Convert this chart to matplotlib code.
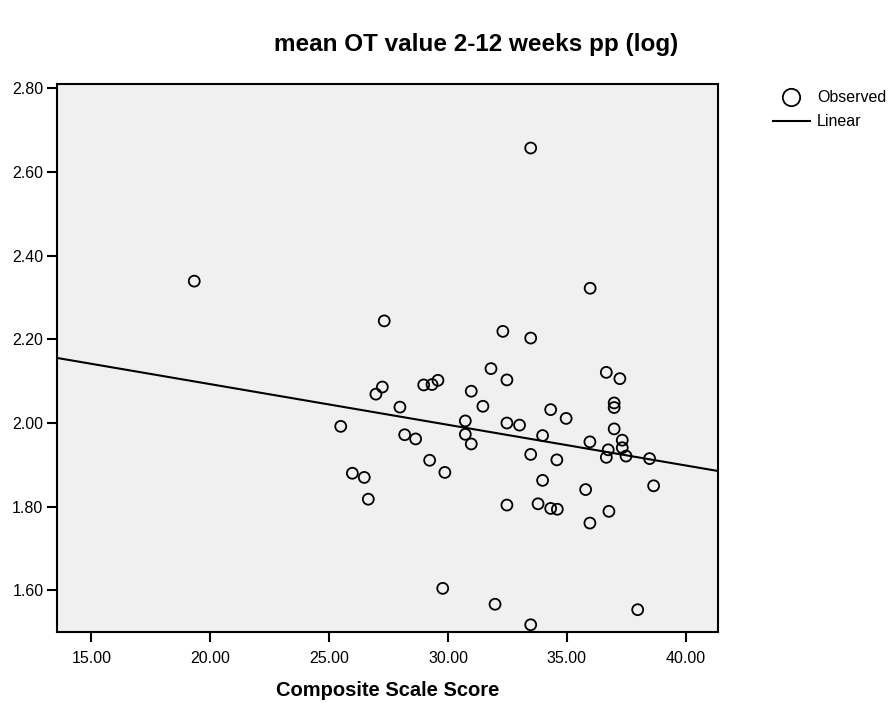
import numpy as np
import matplotlib
matplotlib.use("Agg")
import matplotlib.pyplot as plt
from matplotlib.lines import Line2D

plt.rcParams['font.family'] = ['Liberation Sans', 'DejaVu Sans']

title = "mean OT value 2-12 weeks pp (log)"
x_label = "Composite Scale Score"
legend_labels = ["Observed", "Linear"]
x_ticks = [15.0, 20.0, 25.0, 30.0, 35.0, 40.0]
y_ticks = [1.60, 1.80, 2.00, 2.20, 2.40, 2.60, 2.80]

composite_score = [
    19.33, 33.48, 35.98, 27.32, 32.31, 33.48, 31.81, 32.48, 27.24, 26.97,
    28.98, 29.33, 29.58, 30.98, 27.98, 31.47, 25.49, 30.73, 32.48, 33.01,
    28.18, 28.64, 30.73, 30.98, 33.48, 29.23, 29.87, 25.98, 26.48, 26.65,
    32.48, 36.66, 37.23, 36.99, 36.99, 34.32, 34.97, 36.99, 33.98, 35.97,
    37.33, 37.33, 36.74, 36.66, 37.49, 38.48, 34.58, 33.98, 35.79, 38.65,
    33.79, 34.32, 34.60, 36.77, 35.97, 29.78, 31.98, 33.48, 37.98,
]
mean_ot_log = [
    2.339, 2.657, 2.322, 2.244, 2.219, 2.203, 2.130, 2.103, 2.086, 2.069,
    2.091, 2.092, 2.102, 2.076, 2.038, 2.040, 1.992, 2.005, 2.000, 1.995,
    1.972, 1.962, 1.973, 1.950, 1.925, 1.911, 1.882, 1.880, 1.870, 1.818,
    1.804, 2.121, 2.106, 2.048, 2.037, 2.032, 2.011, 1.986, 1.970, 1.955,
    1.959, 1.941, 1.936, 1.918, 1.921, 1.915, 1.912, 1.863, 1.841, 1.850,
    1.807, 1.796, 1.794, 1.789, 1.761, 1.605, 1.567, 1.518, 1.554,
]

x = np.array(composite_score)
y = np.array(mean_ot_log)

W, H = 893, 703
fig = plt.figure(figsize=(W / 100, H / 100), dpi=100)
ax = fig.add_axes([57.3 / W, 1 - 632.3 / H, 661 / W, 548.3 / H])
ax.set_facecolor("#f0f0f0")
fig.patch.set_facecolor("white")

xlim = (13.57, 41.37)
ylim = (1.50, 2.81)

# least-squares linear fit drawn across the full x range
slope, intercept = np.polyfit(x, y, 1)
xs = np.array(xlim)
ax.plot(xs, intercept + slope * xs, color="black", lw=1.5, zorder=2)

ax.scatter(x, y, s=62, facecolors="none", edgecolors="black",
           linewidths=1.3, zorder=3)

ax.set_xlim(*xlim)
ax.set_ylim(*ylim)
ax.set_xticks(x_ticks)
ax.set_xticklabels([f"{t:.2f}" for t in x_ticks])
ax.set_yticks(y_ticks)
ax.set_yticklabels([f"{t:.2f}" for t in y_ticks])
ax.tick_params(direction="out", length=7, width=1.5, labelsize=11.5,
               colors="black")
ax.tick_params(axis="x", pad=6.5)
ax.tick_params(axis="y", pad=3)
for sp in ax.spines.values():
    sp.set_linewidth(1.5)
    sp.set_color("black")

ax.set_xlabel(x_label, fontsize=14.5, fontweight="bold", labelpad=11)
fig.text(476 / W, 1 - 45 / H, title, ha="center", va="center",
         fontsize=17.5, fontweight="bold")

# legend: open circle for observed points, solid stroke for the fit
fig.add_artist(Line2D([791 / W], [1 - 97.3 / H], marker="o",
                      linestyle="none", markerfacecolor="none",
                      markeredgecolor="black", markersize=12.5,
                      markeredgewidth=1.3, transform=fig.transFigure))
fig.add_artist(Line2D([773 / W, 810 / W], [1 - 120.7 / H] * 2,
                      color="black", lw=1.5, transform=fig.transFigure))
fig.text(817 / W, 1 - 97.5 / H, legend_labels[0], ha="left",
         va="center", fontsize=11.5)
fig.text(817 / W, 1 - 121.5 / H, legend_labels[1], ha="left",
         va="center", fontsize=11.5)

fig.savefig("out.png", dpi=100)
